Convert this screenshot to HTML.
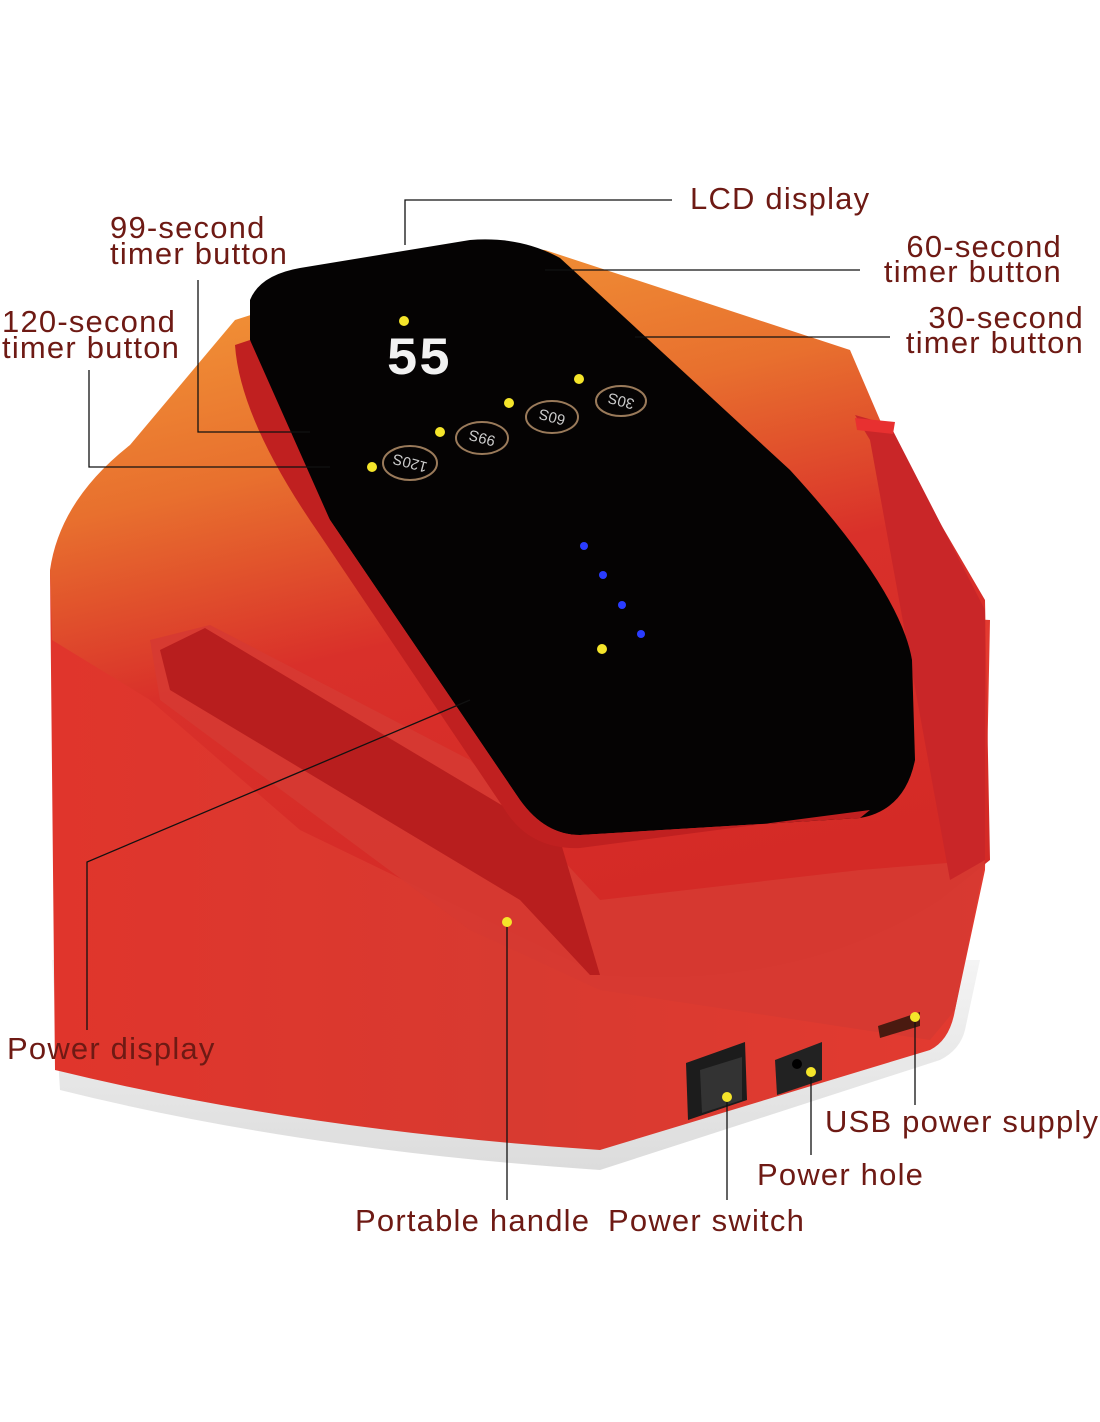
<!DOCTYPE html>
<html><head><meta charset="utf-8"><style>
html,body{margin:0;padding:0;background:#fff;}
svg{display:block;}
text{font-family:"Liberation Sans",sans-serif;fill:#6e1a14;font-size:31px;letter-spacing:1.2px;}
</style></head><body>
<svg width="1100" height="1422" viewBox="0 0 1100 1422" xmlns="http://www.w3.org/2000/svg">
<defs>
<linearGradient id="top" x1="0" y1="0" x2="0.3" y2="1">
<stop offset="0" stop-color="#f5a23a"/><stop offset="0.35" stop-color="#e8702e"/><stop offset="0.6" stop-color="#d9302a"/><stop offset="1" stop-color="#d42a26"/>
</linearGradient>
<linearGradient id="side" x1="0" y1="0" x2="1" y2="0">
<stop offset="0" stop-color="#e0352c"/><stop offset="0.5" stop-color="#d83a30"/><stop offset="1" stop-color="#e33a30"/>
</linearGradient>
<linearGradient id="base" x1="0" y1="0" x2="0" y2="1">
<stop offset="0" stop-color="#f4f4f4"/><stop offset="1" stop-color="#dcdcdc"/>
</linearGradient>
</defs>
<rect width="1100" height="1422" fill="#fff"/>
<path d="M52,960 L60,1090 Q300,1150 600,1170 L940,1060 Q960,1050 965,1030 L980,960 Z" fill="url(#base)"/>
<path d="M50,570 L55,1070 Q300,1130 600,1150 L930,1050 Q950,1040 955,1010 L985,870 L990,620 Z" fill="url(#side)"/>
<path d="M50,570 Q60,500 130,445 L235,320 L470,245 L545,250 L850,350 L880,420 L985,600 L990,860 L940,900 Q800,990 600,975 L300,830 L150,700 L52,640 Z" fill="url(#top)"/>
<path d="M150,640 L210,625 L470,760 L600,900 L860,870 L985,860 L955,1010 L930,1040 L600,990 L470,930 L160,700 Z" fill="#d63a32" opacity="0.9"/>
<path d="M160,650 L205,628 L560,840 L600,975 L590,975 L520,900 L170,690 Z" fill="#b81e1e"/>
<path d="M855,415 L890,425 L985,610 L985,860 L950,880 L910,660 L870,440 Z" fill="#c92628"/>
<path d="M250,300 Q260,275 300,268 L470,240 Q520,236 560,258 L790,470 Q900,590 912,660 L915,760 Q905,810 860,818 L580,835 Q545,835 520,800 L330,520 Q260,410 250,340 Z" fill="#050303"/>
<path d="M250,340 L330,520 L520,800 Q545,835 580,835 L860,818 L870,810 L580,848 Q530,850 505,810 L320,535 Q240,420 235,345 Z" fill="#c02020"/>
<text x="386" y="374" style="font-size:54px;fill:#f2f2f2;font-family:'Liberation Mono',monospace;font-weight:bold;letter-spacing:0">55</text>
<g fill="none" stroke="#9a7a5a" stroke-width="2">
<ellipse cx="410" cy="463" rx="27" ry="17"/><ellipse cx="482" cy="438" rx="26" ry="16"/>
<ellipse cx="552" cy="417" rx="26" ry="16"/><ellipse cx="621" cy="401" rx="25" ry="15"/>
</g>
<text x="410" y="468" text-anchor="middle" transform="rotate(195 410 463)" style="fill:#ccc;font-size:15px;letter-spacing:0">120S</text>
<text x="482" y="443" text-anchor="middle" transform="rotate(195 482 438)" style="fill:#ccc;font-size:15px;letter-spacing:0">99S</text>
<text x="552" y="422" text-anchor="middle" transform="rotate(195 552 417)" style="fill:#ccc;font-size:15px;letter-spacing:0">60S</text>
<text x="621" y="406" text-anchor="middle" transform="rotate(195 621 401)" style="fill:#ccc;font-size:15px;letter-spacing:0">30S</text>
<g fill="#2a3cff"><circle cx="584" cy="546" r="4"/><circle cx="603" cy="575" r="4"/><circle cx="622" cy="605" r="4"/><circle cx="641" cy="634" r="4"/></g>
<path d="M855,418 L895,422 L893,434 L857,430 Z" fill="#e83030"/>
<path d="M686,1063 L745,1042 L747,1100 L688,1120 Z" fill="#1c1c1c"/>
<path d="M700,1070 L742,1057 L742,1100 L702,1113 Z" fill="#333"/>
<path d="M775,1060 L822,1042 L822,1080 L777,1095 Z" fill="#222"/>
<circle cx="797" cy="1064" r="5" fill="#000"/>
<path d="M878,1026 L920,1012 L920,1026 L880,1038 Z" fill="#4a1a10"/>
<g stroke="#111" stroke-width="1.3" fill="none">
<polyline points="405,245 405,200 672,200"/>
<polyline points="198,280 198,432 310,432"/>
<polyline points="89,370 89,467 330,467"/>
<line x1="545" y1="270" x2="860" y2="270"/>
<line x1="635" y1="337" x2="890" y2="337"/>
<polyline points="87,1030 87,862 470,700"/>
<line x1="507" y1="922" x2="507" y2="1200"/>
<line x1="727" y1="1097" x2="727" y2="1200"/>
<line x1="811" y1="1072" x2="811" y2="1155"/>
<line x1="915" y1="1017" x2="915" y2="1105"/>
</g>
<g fill="#f5e52a">
<circle cx="404" cy="321" r="5"/><circle cx="579" cy="379" r="5"/><circle cx="509" cy="403" r="5"/><circle cx="440" cy="432" r="5"/><circle cx="372" cy="467" r="5"/><circle cx="602" cy="649" r="5"/><circle cx="507" cy="922" r="5"/><circle cx="727" cy="1097" r="5"/><circle cx="811" cy="1072" r="5"/><circle cx="915" cy="1017" r="5"/>
</g>
<text x="690" y="209">LCD display</text>
<text x="110" y="238">99-second</text>
<text x="110" y="264">timer button</text>
<text x="2" y="332">120-second</text>
<text x="2" y="358">timer button</text>
<text x="1062" y="257" text-anchor="end">60-second</text>
<text x="1062" y="282" text-anchor="end">timer button</text>
<text x="1084" y="328" text-anchor="end">30-second</text>
<text x="1084" y="353" text-anchor="end">timer button</text>
<text x="7" y="1059">Power display</text>
<text x="825" y="1132">USB power supply</text>
<text x="757" y="1185">Power hole</text>
<text x="355" y="1231">Portable handle</text>
<text x="608" y="1231">Power switch</text>
</svg>
</body></html>
